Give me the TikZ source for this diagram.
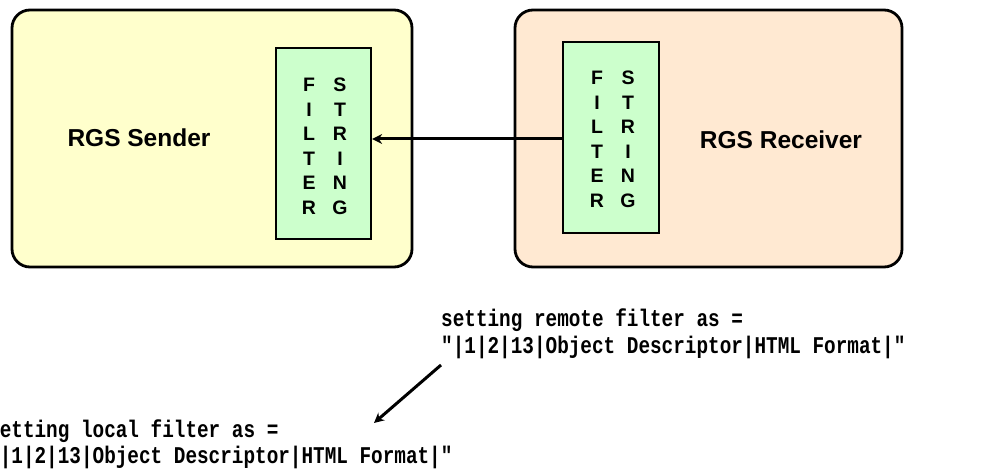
\documentclass[tikz,border=0pt]{standalone}
\usepackage{fontspec}
\setmainfont{Liberation Sans}
\newfontfamily\notefont[FakeStretch=0.806]{Liberation Mono}
\usetikzlibrary{arrows.meta}
\definecolor{sendfill}{RGB}{255,255,204}
\definecolor{recvfill}{RGB}{255,233,210}
\definecolor{filtgreen}{RGB}{204,255,204}
\begin{document}
\begin{tikzpicture}[x=1pt,y=-1pt,
  bigbox/.style={draw=black, line width=2.8pt, rounded corners=18pt, inner sep=0},
  filterbox/.style={draw=black, line width=2.2pt, fill=filtgreen, inner sep=0},
  titletext/.style={font=\fontsize{24.5}{29}\selectfont\bfseries, anchor=base, inner sep=0},
  letter/.style={font=\fontsize{19.5}{22}\selectfont\bfseries, anchor=base, inner sep=0},
  note/.style={font=\notefont\bfseries\fontsize{24}{29}\selectfont, anchor=base west, inner sep=0},
  conn/.style={line width=3pt, -{Stealth[length=10pt,width=10pt]}}]
\useasboundingbox (0,0) rectangle (994,470);
\fill[white] (0,0) rectangle (994,470);
\clip (0,0) rectangle (994,470);

% big boxes
\node[bigbox, fill=sendfill, minimum width=400pt, minimum height=257pt] (sender) at (212,138.5) {};
\node[bigbox, fill=recvfill, minimum width=387pt, minimum height=257pt] (receiver) at (708.5,138.5) {};

% filter boxes
\node[filterbox, minimum width=95pt, minimum height=191pt] (lfilt) at (323.5,143.5) {};
\node[filterbox, minimum width=96pt, minimum height=191pt] (rfilt) at (611,137.5) {};

% titles
\node[titletext] (sendertxt) at (139,147) {RGS Sender};
\node[titletext] (receivertxt) at (781,148.5) {RGS Receiver};

% letters, left filter box
\foreach \ch [count=\i from 0] in {F,I,L,T,E,R}
  \node[letter] (lf\i) at (309,92+24.5*\i) {\ch};
\foreach \ch [count=\i from 0] in {S,T,R,I,N,G}
  \node[letter] (ls\i) at (340,92+24.5*\i) {\ch};
% letters, right filter box
\foreach \ch [count=\i from 0] in {F,I,L,T,E,R}
  \node[letter] (rf\i) at (597,85+24.5*\i) {\ch};
\foreach \ch [count=\i from 0] in {S,T,R,I,N,G}
  \node[letter] (rs\i) at (628,85+24.5*\i) {\ch};

% horizontal connector
\coordinate (ay) at (0,139);
\draw[conn] (ay -| rfilt.west) -- (ay -| lfilt.east);

% notes
\node[note] (remote1) at (441,327) {setting remote filter as =};
\node[note] (remote2) at (441,354) {"|1|2|13|Object Descriptor|HTML Format|"};
\node[note] (local1) at (-12,437) {setting local filter as =};
\node[note] (local2) at (-12,464) {"|1|2|13|Object Descriptor|HTML Format|"};

% diagonal connector
\coordinate (dstart) at (441,365);
\coordinate (dend) at (374,423);
\draw[conn] (dstart) -- (dend);
\end{tikzpicture}
\end{document}
